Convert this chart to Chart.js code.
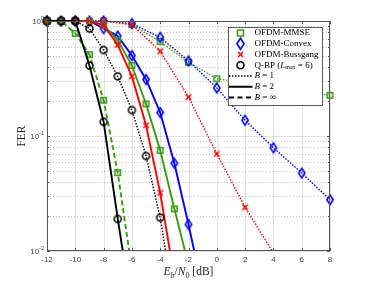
<!DOCTYPE html>
<html>
<head>
<meta charset="utf-8">
<script src="https://cdn.jsdelivr.net/npm/chart.js@4.4.0/dist/chart.umd.min.js"></script>
<style>
  html, body { margin: 0; padding: 0; background: #fff; }
  #wrap { width: 365px; height: 283px; }
</style>
</head>
<body>
<div id="wrap"><canvas id="fer-chart" width="365" height="283"></canvas></div>
<script>
// Eb/N0 grids (dB)
const snrFine = [-12, -11, -10, -9, -8, -7, -6, -5, -4, -3, -2, -1];
const snrCoarse = [-12, -10, -8, -6, -4, -2, 0, 2, 4, 6, 8];

// B = 1 (dotted)
const mmseB1 = [1, 1, 1, 0.93, 0.66, 0.437, 0.315, 0.288, 0.264, 0.243, 0.226];
const convexB1 = [1, 1, 1, 0.95, 0.72, 0.45, 0.262, 0.137, 0.079, 0.0476, 0.0279];
const bussB1 = [1, 1, 1, 0.93, 0.546, 0.218, 0.070, 0.024, 0.0096];
const qbpB1 = [1, 1, 1, 0.86, 0.56, 0.33, 0.168, 0.067, 0.0195, 0.0034];

// B = 2 (solid)
const mmseB2 = [1, 1, 1, 1, 0.92, 0.68, 0.41, 0.19, 0.075, 0.0233, 0.0076];
const convexB2 = [1, 1, 1, 1, 0.86, 0.74, 0.50, 0.31, 0.16, 0.058, 0.017, 0.0046];
const bussB2 = [1, 1, 1, 1, 0.92, 0.62, 0.33, 0.124, 0.032, 0.0059];
const qbpB2 = [1, 1, 1, 0.41, 0.133, 0.019, 0.0031];

// B = inf (dashed)
const mmseBinf = [1, 1, 0.78, 0.51, 0.205, 0.048, 0.0069];

const xTicks = [-12, -10, -8, -6, -4, -2, 0, 2, 4, 6, 8];
const yDecades = [1, 0.1, 0.01];
const yDecadeExp = ['0', '-1', '-2'];

const GREEN = '#3a9a16';
const BLUE = '#0000ff';
const RED = '#ff0000';
const BLACK = '#000000';

const SERIF = '"Liberation Serif", "DejaVu Serif", serif';
const SANS = '"Liberation Sans", Arial, sans-serif';

// marker shapes, shared by the plot and the legend
function drawMarker(ctx, kind, x, y, s) {
  ctx.beginPath();
  if (kind === 'square') {
    ctx.rect(x - s / 2, y - s / 2, s, s);
  } else if (kind === 'diamond') {
    ctx.moveTo(x, y - s * 0.65);
    ctx.lineTo(x + s * 0.42, y);
    ctx.lineTo(x, y + s * 0.65);
    ctx.lineTo(x - s * 0.42, y);
    ctx.closePath();
  } else if (kind === 'cross') {
    ctx.moveTo(x - s / 2, y - s / 2); ctx.lineTo(x + s / 2, y + s / 2);
    ctx.moveTo(x + s / 2, y - s / 2); ctx.lineTo(x - s / 2, y + s / 2);
  } else {
    ctx.arc(x, y, s / 2, 0, Math.PI * 2);
  }
  ctx.stroke();
}

function markerCanvas(kind, color, s, lw) {
  const c = document.createElement('canvas');
  const size = Math.ceil(s * 1.4 + lw * 2 + 2);
  c.width = size; c.height = size;
  const g = c.getContext('2d');
  g.strokeStyle = color;
  g.lineWidth = lw;
  drawMarker(g, kind, size / 2, size / 2, s);
  return c;
}

const markers = {
  mmse: markerCanvas('square', GREEN, 5.5, 1.6),
  convex: markerCanvas('diamond', BLUE, 7.5, 1.6),
  buss: markerCanvas('cross', RED, 5.5, 1.6),
  qbp: markerCanvas('circle', BLACK, 7, 1.5)
};

const lineStyles = {
  dotted: { borderWidth: 1.4, borderDash: [1.5, 1.5] },
  solid: { borderWidth: 1.9, borderDash: [] },
  dashed: { borderWidth: 1.9, borderDash: [5, 3] }
};

function series(xs, ys, color, style, marker) {
  return {
    data: ys.map((v, i) => ({ x: xs[i], y: v })),
    borderColor: color,
    backgroundColor: color,
    borderWidth: lineStyles[style].borderWidth,
    borderDash: lineStyles[style].borderDash,
    pointStyle: markers[marker],
    pointRadius: 4,
    tension: 0,
    fill: false,
    clip: { left: 8, top: 8, right: 8, bottom: 0 }
  };
}

// first dataset ends up on top
const datasets = [
  series(snrFine, qbpB2, BLACK, 'solid', 'qbp'),
  series(snrFine, mmseBinf, GREEN, 'dashed', 'mmse'),
  series(snrFine, qbpB1, BLACK, 'dotted', 'qbp'),
  series(snrFine, bussB2, RED, 'solid', 'buss'),
  series(snrFine, mmseB2, GREEN, 'solid', 'mmse'),
  series(snrFine, convexB2, BLUE, 'solid', 'convex'),
  series(snrCoarse, bussB1, RED, 'dotted', 'buss'),
  series(snrCoarse, convexB1, BLUE, 'dotted', 'convex'),
  series(snrCoarse, mmseB1, GREEN, 'dotted', 'mmse')
];

// draws pieces of text in a row: [text, font, dy]
function textRun(ctx, parts, x, y, align) {
  let total = 0;
  parts.forEach(p => { ctx.font = p[1]; total += ctx.measureText(p[0]).width; });
  let cx = align === 'center' ? x - total / 2 : x;
  ctx.textAlign = 'left';
  parts.forEach(p => {
    ctx.font = p[1];
    ctx.fillText(p[0], cx, y + (p[2] || 0));
    cx += ctx.measureText(p[0]).width;
  });
}

const axesDecor = {
  id: 'axesDecor',
  beforeDatasetsDraw(chart) {
    const { ctx, chartArea: a, scales } = chart;
    ctx.save();
    ctx.lineWidth = 1;
    ctx.strokeStyle = 'rgba(0,0,0,0.11)';
    xTicks.forEach(v => {
      const px = Math.round(scales.x.getPixelForValue(v)) + 0.5;
      ctx.beginPath(); ctx.moveTo(px, a.top); ctx.lineTo(px, a.bottom); ctx.stroke();
    });
    yDecades.forEach(v => {
      const py = Math.round(scales.y.getPixelForValue(v)) + 0.5;
      ctx.beginPath(); ctx.moveTo(a.left, py); ctx.lineTo(a.right, py); ctx.stroke();
    });
    ctx.setLineDash([1, 2]);
    ctx.strokeStyle = 'rgba(0,0,0,0.22)';
    [0.01, 0.1].forEach(d => {
      for (let k = 2; k <= 9; k++) {
        const py = Math.round(scales.y.getPixelForValue(d * k)) + 0.5;
        ctx.beginPath(); ctx.moveTo(a.left, py); ctx.lineTo(a.right, py); ctx.stroke();
      }
    });
    ctx.restore();
  },
  afterDatasetsDraw(chart) {
    const { ctx, chartArea: a, scales } = chart;
    ctx.save();
    ctx.strokeStyle = '#555';
    ctx.lineWidth = 1;
    ctx.strokeRect(a.left + 0.5, a.top + 0.5, a.right - a.left - 1, a.bottom - a.top - 1);
    // inward ticks
    ctx.beginPath();
    xTicks.forEach(v => {
      const px = Math.round(scales.x.getPixelForValue(v)) + 0.5;
      ctx.moveTo(px, a.bottom); ctx.lineTo(px, a.bottom - 3);
      ctx.moveTo(px, a.top); ctx.lineTo(px, a.top + 3);
    });
    [0.01, 0.1].forEach(d => {
      for (let k = 1; k <= 10; k++) {
        const py = Math.round(scales.y.getPixelForValue(d * k)) + 0.5;
        const len = (k === 1 || k === 10) ? 3 : 2;
        ctx.moveTo(a.left, py); ctx.lineTo(a.left + len, py);
        ctx.moveTo(a.right, py); ctx.lineTo(a.right - len, py);
      }
    });
    ctx.stroke();

    // y tick labels 10^k
    ctx.fillStyle = '#404040';
    ctx.textBaseline = 'middle';
    yDecades.forEach((v, i) => {
      const py = scales.y.getPixelForValue(v);
      ctx.font = '5.5px ' + SANS;
      const ew = ctx.measureText(yDecadeExp[i]).width;
      ctx.textAlign = 'right';
      ctx.fillText(yDecadeExp[i], a.left - 3, py - 3);
      ctx.font = '8px ' + SANS;
      ctx.fillText('10', a.left - 3 - ew, py + 0.5);
    });

    // axis titles
    ctx.fillStyle = '#262626';
    ctx.textBaseline = 'alphabetic';
    textRun(ctx, [
      ['E', 'italic 11.5px ' + SERIF],
      ['b', 'italic 8px ' + SERIF, 2.5],
      ['/', '11.5px ' + SERIF],
      ['N', 'italic 11.5px ' + SERIF],
      ['0', '8px ' + SERIF, 2.5],
      [' [dB]', '11.5px ' + SERIF]
    ], (a.left + a.right) / 2, 275, 'center');

    ctx.translate(22, (a.top + a.bottom) / 2);
    ctx.rotate(-Math.PI / 2);
    ctx.font = '11.5px ' + SERIF;
    ctx.textAlign = 'center';
    ctx.textBaseline = 'middle';
    ctx.fillText('FER', 0, 0);
    ctx.restore();
  },
  afterDraw(chart) {
    const ctx = chart.ctx;
    const box = { x: 228, y: 27, w: 94, h: 78 };
    ctx.save();
    ctx.fillStyle = '#fff';
    ctx.fillRect(box.x, box.y, box.w, box.h);
    ctx.strokeStyle = '#333';
    ctx.lineWidth = 0.8;
    ctx.strokeRect(box.x + 0.5, box.y + 0.5, box.w, box.h);

    const rowY = i => 33 + i * 10.75;
    const iconX = 240.5;
    const textX = 254.5;
    const f = '9px ' + SERIF;
    const fi = 'italic 9px ' + SERIF;
    ctx.textBaseline = 'middle';
    ctx.fillStyle = '#000';

    const mk = [
      ['square', GREEN, 6, 'OFDM-MMSE'],
      ['diamond', BLUE, 8.5, 'OFDM-Convex'],
      ['cross', RED, 5, 'OFDM-Bussgang']
    ];
    mk.forEach((m, i) => {
      ctx.strokeStyle = m[1];
      ctx.lineWidth = 1.6;
      drawMarker(ctx, m[0], iconX, rowY(i), m[2]);
      ctx.fillStyle = '#000';
      textRun(ctx, [[m[3], f]], textX, rowY(i), 'left');
    });
    ctx.strokeStyle = BLACK;
    ctx.lineWidth = 1.6;
    drawMarker(ctx, 'circle', iconX, rowY(3), 7);
    textRun(ctx, [
      ['Q-BP (', f],
      ['L', fi],
      ['max', '6px ' + SERIF, 2],
      [' = 6)', f]
    ], textX, rowY(3), 'left');

    const bRows = [['dotted', ' = 1'], ['solid', ' = 2'], ['dashed', ' = \u221e']];
    bRows.forEach((r, j) => {
      const y = rowY(4 + j);
      const st = lineStyles[r[0]];
      ctx.strokeStyle = BLACK;
      ctx.lineWidth = r[0] === 'dotted' ? 1.4 : 2;
      ctx.setLineDash(r[0] === 'dashed' ? [5, 3.5] : st.borderDash);
      ctx.beginPath(); ctx.moveTo(229, y); ctx.lineTo(252.5, y); ctx.stroke();
      ctx.setLineDash([]);
      textRun(ctx, [['B', fi], [r[1], f]], textX, y, 'left');
    });
    ctx.restore();
  }
};

new Chart(document.getElementById('fer-chart'), {
  type: 'line',
  data: { datasets: datasets },
  options: {
    responsive: false,
    animation: false,
    devicePixelRatio: 1,
    events: [],
    layout: { padding: { top: 21, right: 35, bottom: 0, left: 0 } },
    plugins: { legend: { display: false }, tooltip: { enabled: false } },
    scales: {
      x: {
        type: 'linear',
        min: -12,
        max: 8,
        grid: { display: false, drawTicks: false },
        border: { display: false },
        ticks: {
          stepSize: 2,
          autoSkip: false,
          maxRotation: 0,
          padding: 4,
          color: '#404040',
          font: { family: SANS, size: 8 }
        },
        afterFit(scale) { scale.height = 32; }
      },
      y: {
        type: 'logarithmic',
        min: 0.01,
        max: 1,
        grid: { display: false, drawTicks: false },
        border: { display: false },
        ticks: { display: false },
        afterFit(scale) { scale.width = 47; }
      }
    }
  },
  plugins: [axesDecor]
});
</script>
</body>
</html>
